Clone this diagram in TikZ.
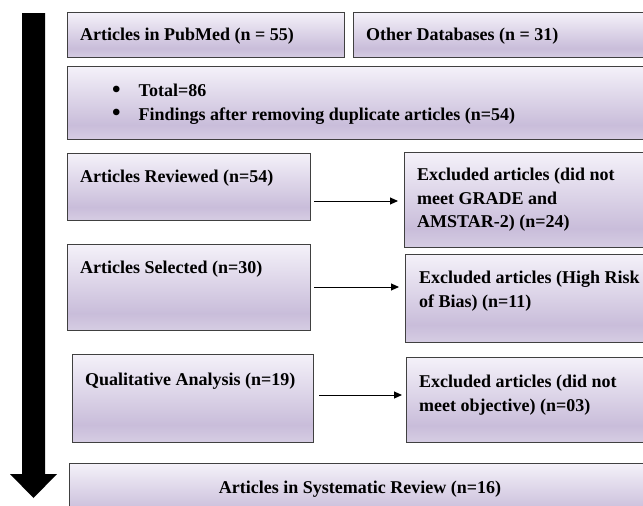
\documentclass[tikz,border=0pt]{standalone}
\usepackage{fontspec}
\setmainfont{Liberation Serif}
\usetikzlibrary{arrows.meta}
\definecolor{lavtop}{HTML}{F4F1F9}
\definecolor{lavmid}{HTML}{C9BDDA}
\definecolor{lavbot}{HTML}{D6CDE3}
\definecolor{bordergray}{HTML}{404040}
\pgfdeclareverticalshading{lav}{100bp}{color(0bp)=(lavbot); color(25bp)=(lavbot); color(35bp)=(lavmid); color(75bp)=(lavtop); color(100bp)=(lavtop)}
\tikzset{
  box/.style={draw=bordergray, line width=1.1pt, shading=lav, rectangle, inner sep=0pt, anchor=north west},
  txt/.style={inner sep=0pt, anchor=north west, align=left, font=\fontsize{18}{23.5}\selectfont\bfseries},
  conn/.style={-{Triangle[length=8pt,width=7pt]}, line width=1pt, black},
}
\newcommand{\bigbul}{\raisebox{-0.5pt}{\scalebox{1.35}{\textbullet}}}
\begin{document}
\begin{tikzpicture}[x=1pt,y=-1pt]
\useasboundingbox (0,0) rectangle (643,506);
\clip (0,0) rectangle (643,506);
\fill[white] (0,0) rectangle (643,506);
% big arrow
\fill[black] (22,13) -- (45,13) -- (45,474) -- (57,474) -- (33.5,498) -- (10,474) -- (22,474) -- cycle;
% boxes
\node[box, minimum width=277pt, minimum height=45pt] (pub) at (67,12) {};
\node[box, minimum width=300pt, minimum height=45pt] (oth) at (353,12) {};
\node[box, minimum width=590pt, minimum height=73pt] (tot) at (67,66) {};
\node[box, minimum width=243pt, minimum height=67pt] (rev) at (67,153) {};
\node[box, minimum width=250pt, minimum height=95pt] (ex1) at (404,152) {};
\node[box, minimum width=243pt, minimum height=86pt] (sel) at (67,244) {};
\node[box, minimum width=250pt, minimum height=88pt] (ex2) at (405,254) {};
\node[box, minimum width=241pt, minimum height=88pt] (qua) at (72,354) {};
\node[box, minimum width=250pt, minimum height=85pt] (ex3) at (406,357) {};
\node[box, minimum width=582pt, minimum height=60pt] (fin) at (69,463) {};
% texts
\node[txt] (tpub) at (80,28) {Articles in PubMed (n = 55)};
\node[txt] (toth) at (366,28) {Other Databases (n = 31)};
\node[txt] (ttot) at (112,84) {\bigbul\hspace{18pt}Total=86\\\bigbul\hspace{18pt}Findings after removing duplicate articles (n=54)};
\node[txt] (trev) at (80,170) {Articles Reviewed (n=54)};
\node[txt] (tex1) at (417,168) {Excluded articles (did not\\meet GRADE and\\AMSTAR-2) (n=24)};
\node[txt] (tsel) at (80,261) {Articles Selected (n=30)};
\node[txt] (tex2) at (419,271) {Excluded articles (High Risk\\of Bias) (n=11)};
\node[txt] (tqua) at (85,373) {Qualitative Analysis (n=19)};
\node[txt] (tex3) at (419,375) {Excluded articles (did not\\meet objective) (n=03)};
\node[txt, anchor=north] (tfin) at (360,481) {Articles in Systematic Review (n=16)};
% connectors
\draw[conn, shorten <=3pt, shorten >=6pt] (rev.east |- 0,201) -- (ex1.west |- 0,201);
\draw[conn, shorten <=3pt, shorten >=6pt] (sel.east |- 0,287) -- (ex2.west |- 0,287);
\draw[conn, shorten <=5pt, shorten >=4pt] (qua.east |- 0,395) -- (ex3.west |- 0,395);
\end{tikzpicture}
\end{document}
